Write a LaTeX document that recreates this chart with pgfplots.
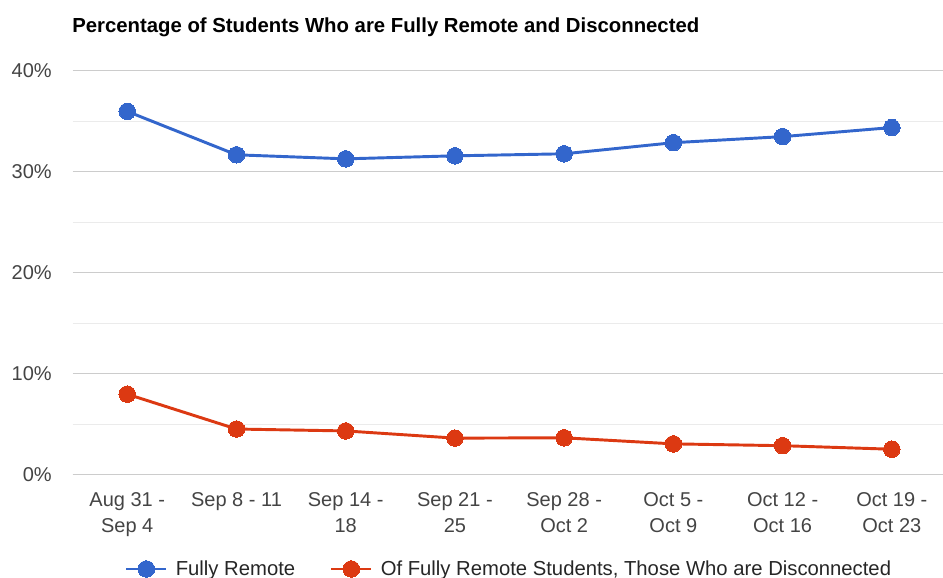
\documentclass[border=0pt]{standalone}
\usepackage{pgfplots}
\pgfplotsset{compat=1.18}
\usepackage{fontspec}
\setmainfont{Liberation Sans}
\definecolor{gblue}{HTML}{3366CC}
\definecolor{gred}{HTML}{DC3912}
\definecolor{ticktxt}{HTML}{444444}
\definecolor{majgrid}{HTML}{CCCCCC}
\definecolor{mingrid}{HTML}{EBEBEB}
\definecolor{basecol}{HTML}{555555}
\begin{document}
\begin{tikzpicture}[x=0.75pt,y=0.75pt]
\node[anchor=base west,font=\bfseries\fontsize{15.25}{17}\selectfont,inner sep=0pt] at (72,545.5) {Percentage of Students Who are Fully Remote and Disconnected};
\begin{axis}[
  at={(66.5,102)}, anchor=south west,
  scale only axis, width=657pt, height=303pt,
  xmin=-0.5, xmax=7.52, ymin=0, ymax=40,
  axis line style={draw=none},
  major tick length=0pt, minor tick length=0pt,
  xtick={0,...,7},
  xticklabels={Aug 31 -\\Sep 4, Sep 8 - 11, Sep 14 -\\18, Sep 21 -\\25, Sep 28 -\\Oct 2, Oct 5 -\\Oct 9, Oct 12 -\\Oct 16, Oct 19 -\\Oct 23},
  xticklabel style={align=center, anchor=north, inner sep=0pt, yshift=-13pt, font=\fontsize{15}{19.5}\selectfont, text=ticktxt},
  ytick={0,10,20,30,40},
  yticklabels={0\%,10\%,20\%,30\%,40\%},
  minor ytick={5,15,25,35},
  yticklabel style={anchor=east, inner sep=0pt, xshift=-15.5pt, font=\fontsize{15}{18}\selectfont, text=ticktxt},
  ymajorgrids, yminorgrids,
  major grid style={majgrid, line width=0.75pt},
  minor grid style={mingrid, line width=0.75pt},
  extra y ticks={0}, extra y tick labels={},
  extra y tick style={grid style={basecol, line width=1.4pt}},
  legend columns=2,
  legend style={at={(axis description cs:0.497,-0.2327)}, anchor=center, draw=none, fill=none,
    font=\fontsize{15.2}{18}\selectfont, text=black!85,
    nodes={inner sep=0pt},
    /tikz/every odd column/.append style={column sep=6pt},
    /tikz/every even column/.append style={column sep=26pt}},
  legend image code/.code={\draw[mark repeat=2,mark phase=2,#1] plot coordinates {(0pt,0pt) (15pt,0pt) (30pt,0pt)};},
  clip=false,
]
\addplot[gblue, line width=2.2pt, mark=*, mark size=6.2pt, mark options={solid, fill=gblue, draw=gblue, line width=0pt}]
  coordinates {(0,36.0) (1,31.7) (2,31.3) (3,31.6) (4,31.8) (5,32.9) (6,33.5) (7,34.4)};
\addlegendentry{Fully Remote}
\addplot[gred, line width=2.2pt, mark=*, mark size=6.2pt, mark options={solid, fill=gred, draw=gred, line width=0pt}]
  coordinates {(0,8.0) (1,4.55) (2,4.36) (3,3.65) (4,3.68) (5,3.08) (6,2.9) (7,2.55)};
\addlegendentry{Of Fully Remote Students, Those Who are Disconnected}
\end{axis}
\pgfresetboundingbox
\path[use as bounding box] (0,0) rectangle (943,578);
\end{tikzpicture}
\end{document}
